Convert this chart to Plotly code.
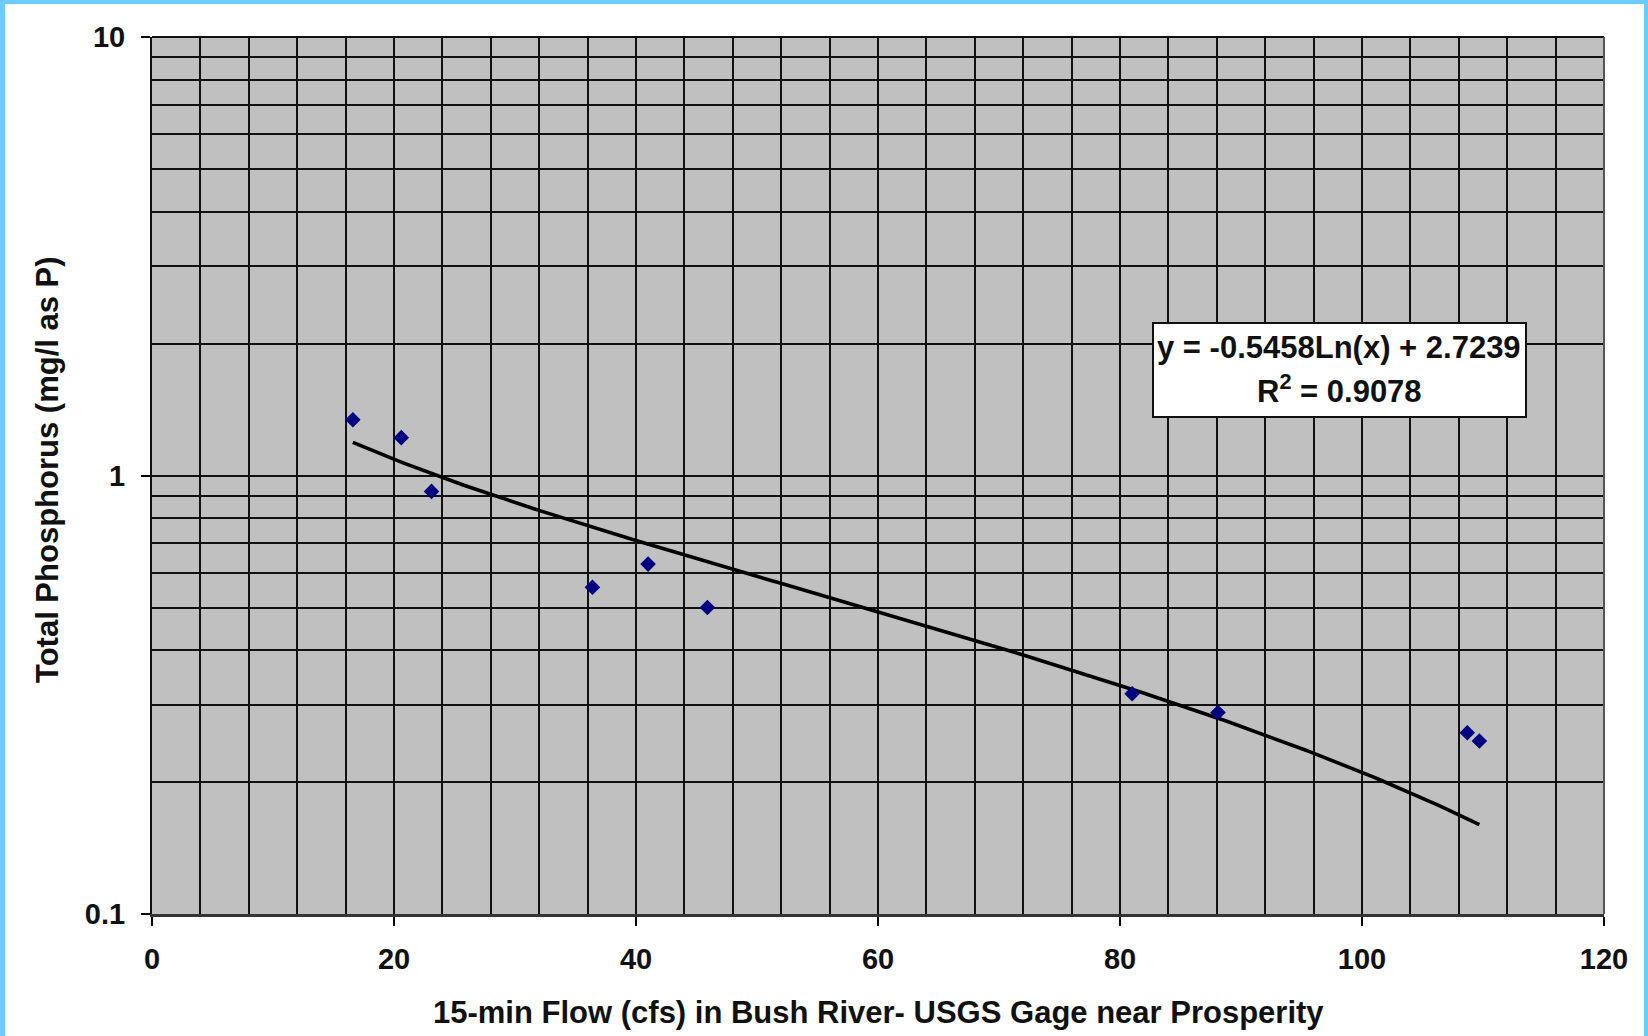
import plotly.graph_objects as go
import numpy as np

# ---- data ----
flow_cfs = [16.6, 20.6, 23.1, 36.4, 41.0, 45.9, 81.0, 88.1, 108.7, 109.7]
total_p = [1.34, 1.22, 0.92, 0.556, 0.628, 0.50, 0.318, 0.288, 0.259, 0.248]

# logarithmic trendline shown on the chart: y = a*ln(x) + b
trend_a = -0.5458
trend_b = 2.7239
trend_line1 = "y = -0.5458Ln(x) + 2.7239"
trend_line2 = "R<sup>2</sup> = 0.9078"

x_title = "15-min Flow (cfs) in Bush River- USGS Gage near Prosperity"
y_title = "Total Phosphorus (mg/l as P)"
y_tickvals = [0.1, 1, 10]
y_ticktext = ["0.1", "1", "10"]

# ---- layout geometry (pixels) ----
W, H = 1648, 1036
L, R, T, B = 152, 44, 37, 122
PW, PH = W - L - R, H - T - B

def px2x(px):
    return (px - L) / PW

def px2y(py):
    return (H - B - py) / PH

FONT = "Arial, Liberation Sans, sans-serif"
BLUE = "#6CCBFF"
INK = "#111111"

trend_x = np.linspace(min(flow_cfs), max(flow_cfs), 200)
trend_y = trend_a * np.log(trend_x) + trend_b

fig = go.Figure()
fig.add_trace(go.Scatter(x=trend_x, y=trend_y, mode="lines",
                         line=dict(color="black", width=3.6),
                         hoverinfo="skip", showlegend=False))
fig.add_trace(go.Scatter(x=flow_cfs, y=total_p, mode="markers",
                         marker=dict(symbol="diamond", size=12, color="#000080"),
                         showlegend=False))

minor_y = [m * 10.0 ** e for e in (-1, 0) for m in range(2, 10)]

fig.update_xaxes(range=[0, 120], dtick=20, tick0=0,
                 showgrid=True, gridcolor=INK, gridwidth=2,
                 minor=dict(dtick=4, tick0=0, showgrid=True, gridcolor=INK, gridwidth=2),
                 ticks="outside", ticklen=9, tickwidth=2, tickcolor="black",
                 showline=True, linecolor="#333333", linewidth=3, mirror=False,
                 zeroline=False, ticklabelstandoff=8,
                 tickfont=dict(family=FONT, size=29, color=INK, weight="bold"))
fig.update_yaxes(type="log", range=[-1, 1], tickvals=y_tickvals, ticktext=y_ticktext,
                 showgrid=True, gridcolor=INK, gridwidth=2,
                 minor=dict(tickvals=minor_y, showgrid=True, gridcolor=INK, gridwidth=2),
                 ticks="outside", ticklen=9, tickwidth=2, tickcolor="black",
                 showline=True, linecolor=INK, linewidth=2, mirror=False,
                 zeroline=False, ticklabelstandoff=10,
                 tickfont=dict(family=FONT, size=29, color=INK, weight="bold"))

annotations = [
    dict(text=x_title, xref="paper", yref="paper", x=px2x(878), y=px2y(1012),
         xanchor="center", yanchor="middle", showarrow=False,
         font=dict(family=FONT, size=31, color=INK, weight="bold")),
    dict(text=y_title, xref="paper", yref="paper", x=px2x(47), y=px2y(470),
         xanchor="center", yanchor="middle", showarrow=False, textangle=-90,
         font=dict(family=FONT, size=31, color=INK, weight="bold")),
    dict(text=trend_line1, xref="paper", yref="paper", x=px2x(1339), y=px2y(347),
         xanchor="center", yanchor="middle", showarrow=False,
         font=dict(family=FONT, size=31, color=INK, weight="bold")),
    dict(text=trend_line2, xref="paper", yref="paper", x=px2x(1339), y=px2y(389),
         xanchor="center", yanchor="middle", showarrow=False,
         font=dict(family=FONT, size=31, color=INK, weight="bold")),
]

shapes = [
    # equation box
    dict(type="rect", xref="paper", yref="paper", x0=px2x(1153), x1=px2x(1526),
         y0=px2y(417), y1=px2y(323), fillcolor="white",
         line=dict(color=INK, width=2), layer="above"),
    # light blue page frame
    dict(type="rect", xref="paper", yref="paper", x0=px2x(0), x1=px2x(5),
         y0=px2y(H), y1=px2y(0), fillcolor=BLUE, line=dict(width=0), layer="above"),
    dict(type="rect", xref="paper", yref="paper", x0=px2x(0), x1=px2x(W),
         y0=px2y(4), y1=px2y(0), fillcolor=BLUE, line=dict(width=0), layer="above"),
    dict(type="rect", xref="paper", yref="paper", x0=px2x(W - 4), x1=px2x(W),
         y0=px2y(H), y1=px2y(0), fillcolor=BLUE, line=dict(width=0), layer="above"),
    # top and right frame of the plot area
    dict(type="line", xref="paper", yref="paper", x0=0, x1=1, y0=1, y1=1,
         line=dict(color=INK, width=2), layer="above"),
    dict(type="line", xref="paper", yref="paper", x0=1, x1=1, y0=0, y1=1,
         line=dict(color="#555555", width=2), layer="above"),
]

fig.update_layout(width=W, height=H, autosize=False,
                  margin=dict(l=L, r=R, t=T, b=B, pad=0),
                  paper_bgcolor="white", plot_bgcolor="#C0C0C0",
                  annotations=annotations, shapes=shapes,
                  font=dict(family=FONT))

fig.write_html("out.html", config={"displayModeBar": False},
               post_script="document.body.style.margin='0';document.body.style.overflow='hidden';")
